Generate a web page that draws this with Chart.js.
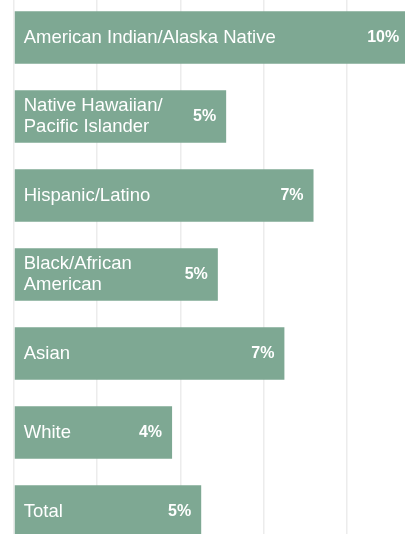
<!DOCTYPE html>
<html>
<head>
<meta charset="utf-8">
<script src="https://cdn.jsdelivr.net/npm/chart.js@4/dist/chart.umd.min.js"></script>
<style>
  html, body { margin: 0; padding: 0; background: #ffffff; overflow: hidden; }
  body { width: 405px; height: 534px; position: relative; }
  #wrap { position: absolute; left: 0; top: -2px; width: 430px; height: 553px; }
</style>
</head>
<body>
<div id="wrap"><canvas id="chart"></canvas></div>
<script>
const categories = [
  ['American Indian/Alaska Native'],
  ['Native Hawaiian/', 'Pacific Islander'],
  ['Hispanic/Latino'],
  ['Black/African', 'American'],
  ['Asian'],
  ['White'],
  ['Total'],
];
const rates = [9.5, 5.1, 7.2, 4.9, 6.5, 3.8, 4.5];
const gridTicks = [0, 2, 4, 6, 8, 10];

const BAR_COLOR = '#7ea893';
const FONT = '"Liberation Sans", Arial, sans-serif';

const insideLabels = {
  id: 'insideLabels',
  afterDatasetsDraw(chart) {
    const ctx = chart.ctx;
    const meta = chart.getDatasetMeta(0);
    ctx.save();
    ctx.fillStyle = '#ffffff';
    ctx.textBaseline = 'middle';
    meta.data.forEach((bar, i) => {
      const lines = categories[i];
      const lh = 21;
      ctx.font = '18.5px ' + FONT;
      ctx.textAlign = 'left';
      lines.forEach((line, j) => {
        const y = bar.y + (j - (lines.length - 1) / 2) * lh;
        ctx.fillText(line, bar.base + 9, y);
      });
      ctx.font = 'bold 16px ' + FONT;
      ctx.textAlign = 'right';
      ctx.fillText(Math.round(rates[i]) + '%', bar.x - 10, bar.y);
    });
    ctx.restore();
  },
};

new Chart(document.getElementById('chart'), {
  type: 'bar',
  data: {
    labels: categories,
    datasets: [{
      data: rates,
      backgroundColor: BAR_COLOR,
      borderWidth: 0,
      categoryPercentage: 1,
      barPercentage: 0.667,
    }],
  },
  options: {
    indexAxis: 'y',
    responsive: true,
    maintainAspectRatio: false,
    animation: false,
    layout: { padding: { left: 14, right: 0, top: 0, bottom: 0 } },
    plugins: { legend: { display: false }, tooltip: { enabled: false } },
    scales: {
      x: {
        min: 0,
        max: 10,
        afterBuildTicks: (axis) => { axis.ticks = gridTicks.map((v) => ({ value: v })); },
        ticks: { display: false },
        grid: { color: '#ececec', lineWidth: 1.5, drawTicks: false },
        border: { display: false },
      },
      y: { display: false },
    },
  },
  plugins: [insideLabels],
});
</script>
</body>
</html>
